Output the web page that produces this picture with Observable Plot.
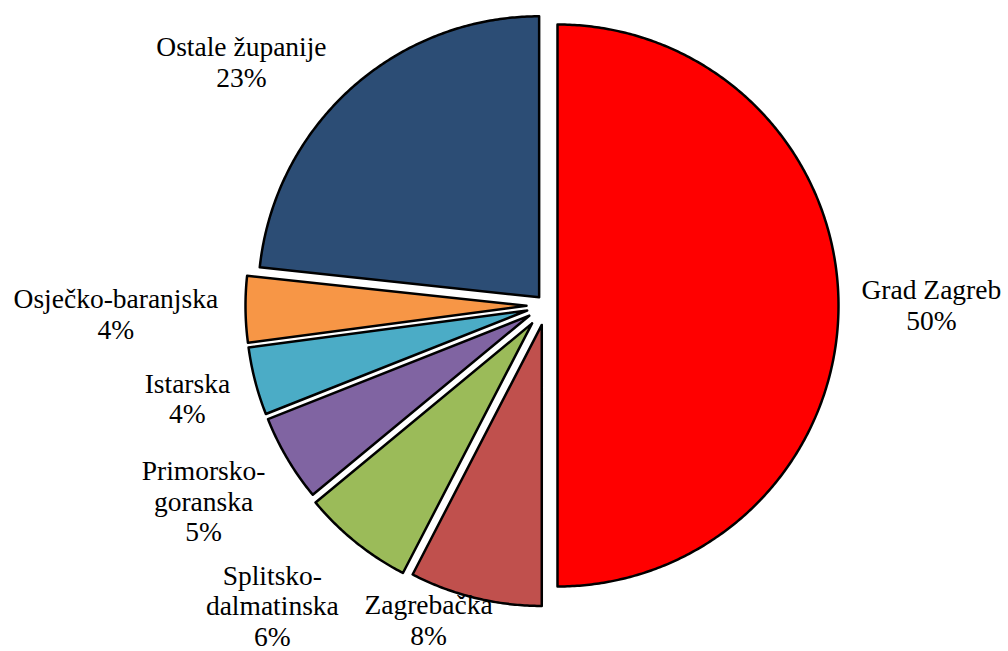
<!DOCTYPE html>
<html>
<head>
<meta charset="utf-8">
<script src="https://cdn.jsdelivr.net/npm/d3@7"></script>
<script src="https://cdn.jsdelivr.net/npm/@observablehq/plot@0.6"></script>
<style>
  html, body { margin: 0; padding: 0; background: #ffffff; }
  #chart svg { display: block; }
</style>
</head>
<body>
<div id="chart"></div>
<script>
// ---- data ----
const regions = ["Grad Zagreb", "Zagrebačka", "Splitsko-dalmatinska", "Primorsko-goranska", "Istarska", "Osječko-baranjska", "Ostale županije"];
const shares = [50.0, 7.6, 6.4, 5.0, 3.9, 3.8, 23.3];
const labelTexts = ["Grad Zagreb", "Zagrebačka", "Splitsko-\ndalmatinska", "Primorsko-\ngoranska", "Istarska", "Osječko-baranjska", "Ostale županije"];

// ---- style / layout ----
const colors = ["#FF0000", "#C0504D", "#9BBB59", "#8064A2", "#4BACC6", "#F79646", "#2C4D75"];
const W = 1008, H = 651;
const CX = 546, CY = 305, R = 281;          // pie centre and radius (px)
const explodeDefault = 20;
const explode = {"Grad Zagreb": 11, "Ostale županije": 11, "Splitsko-dalmatinska": 23};
const labelGap = 22;
const labelNudge = {
  "Grad Zagreb": [1, -1],
  "Zagrebačka": [-31, -43],
  "Splitsko-dalmatinska": [-21, -14],
  "Primorsko-goranska": [1, -8],
  "Istarska": [1, -1],
  "Osječko-baranjska": [-5, 3],
  "Ostale županije": [-42, 49]
};
const fontSize = 27.5, lineH = 30.5;
const fontFamily = "Liberation Serif";

// ---- build geometry from data ----
const data = regions.map((name, i) => ({name, share: shares[i], label: labelTexts[i]}));
const total = d3.sum(shares);
const arcs = d3.pie().sort(null).value(d => d.share)(data);

const ctx = document.createElement("canvas").getContext("2d");
ctx.font = `${fontSize}px "Liberation Serif", serif`;

const pts = [];
const labels = [];
for (const a of arcs) {
  const name = a.data.name;
  const e = (explode[name] ?? explodeDefault) / R;
  const mid = (a.startAngle + a.endAngle) / 2;
  const ax = e * Math.sin(mid), ay = e * Math.cos(mid);
  pts.push({name, x: ax, y: ay});
  const n = Math.max(2, Math.ceil((a.endAngle - a.startAngle) / (Math.PI / 360)));
  for (let k = 0; k <= n; k++) {
    const t = a.startAngle + (a.endAngle - a.startAngle) * k / n;
    pts.push({name, x: ax + Math.sin(t), y: ay + Math.cos(t)});
  }
  pts.push({name, x: ax, y: ay});

  // label
  const pct = Math.round(a.data.share / total * 100) + "%";
  const text = a.data.label + "\n" + pct;
  const lines = text.split("\n");
  const w = d3.max(lines, l => ctx.measureText(l).width);
  const h = lines.length * lineH;
  const ux = Math.sin(mid), uy = -Math.cos(mid); // screen direction
  const support = (w / 2) * Math.abs(ux) + (h / 2) * Math.abs(uy);
  const dist = R + (explode[name] ?? explodeDefault) + labelGap + support;
  const [nx, ny] = labelNudge[name] || [0, 0];
  const px = CX + dist * ux + nx;
  const py = CY + dist * uy + ny;
  labels.push({name, text, x: (px - CX) / R, y: (CY - py) / R});
}

const chart = Plot.plot({
  width: W,
  height: H,
  margin: 0,
  x: {domain: [-CX / R, (W - CX) / R], axis: null},
  y: {domain: [-(H - CY) / R, CY / R], axis: null},
  color: {domain: regions, range: colors},
  style: {background: "#ffffff"},
  marks: [
    Plot.line(pts, {
      x: "x", y: "y", z: "name", fill: "name",
      stroke: "#000000", strokeWidth: 2.5,
      strokeLinejoin: "round", strokeLinecap: "round", curve: "linear"
    }),
    Plot.text(labels, {
      x: "x", y: "y", text: "text",
      fontSize, fontFamily,
      lineHeight: lineH / fontSize,
      lineAnchor: "middle", textAnchor: "middle",
      fill: "#000000"
    })
  ]
});
document.getElementById("chart").appendChild(chart);
</script>
</body>
</html>
